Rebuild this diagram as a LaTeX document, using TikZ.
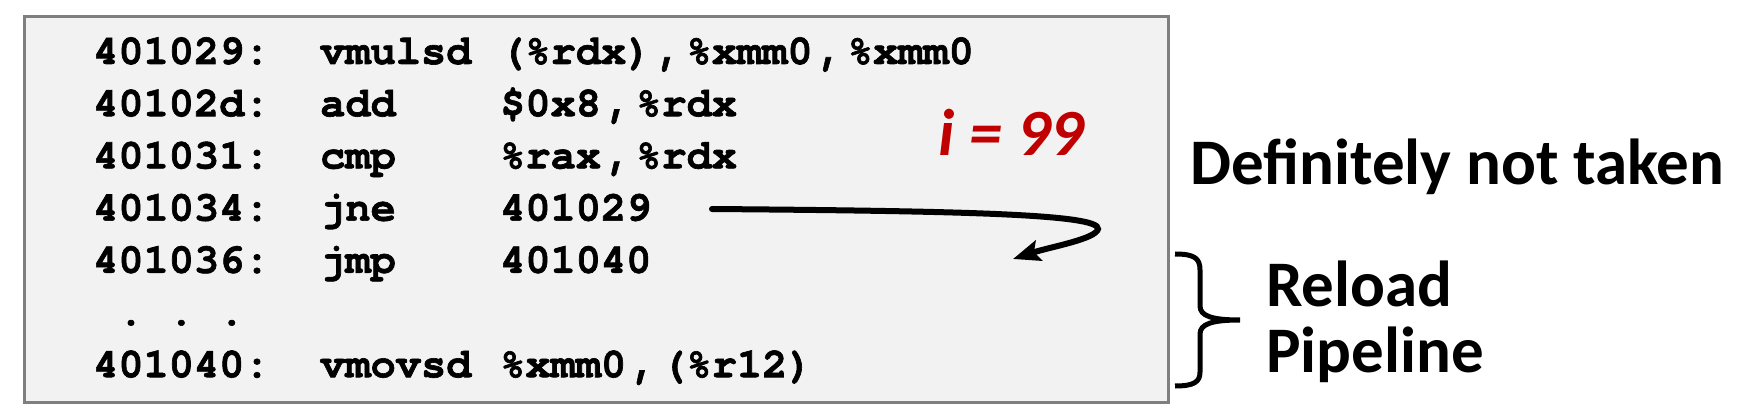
\documentclass[tikz,border=0pt]{standalone}
\usepackage{fontspec}
\usetikzlibrary{arrows.meta}
\newfontfamily\codefont{texgyrecursor}[Extension=.otf,UprightFont=*-regular,BoldFont=*-bold,BoldFeatures={FakeBold=1.5}]
\newfontfamily\calfont{Carlito}
\definecolor{boxfill}{HTML}{F2F2F2}
\definecolor{boxline}{HTML}{7F7F7F}
\definecolor{darkred}{HTML}{C00000}
\newcommand{\cm}{\kern5pt,\kern5pt}
\begin{document}
\begin{tikzpicture}[x=1pt,y=-1pt,
  code/.style={anchor=base west,inner sep=0pt,font=\codefont\bfseries\fontsize{42}{50}\selectfont},
  label/.style={anchor=base west,inner sep=0pt,font=\calfont\bfseries\fontsize{65}{72}\selectfont},
  conn/.style={line width=6pt,line cap=round}]
\useasboundingbox (0,0) rectangle (1758,419);
\node[draw=boxline,line width=3pt,fill=boxfill,minimum width=1144pt,minimum height=386pt,anchor=north west,inner sep=0pt] (box) at (22.5,15) {};
% addresses
\node[code] (a1) at (93,64) {401029:};
\node[code] (a2) at (93,116.2) {40102d:};
\node[code] (a3) at (93,168.4) {401031:};
\node[code] (a4) at (93,220.6) {401034:};
\node[code] (a5) at (93,272.8) {401036:};
\node[code] (a6) at (93,325) {~.~.~.};
\node[code] (a7) at (93,377.2) {401040:};
% mnemonics
\node[code] (m1) at (320,64) {vmulsd};
\node[code] (m2) at (320,116.2) {add};
\node[code] (m3) at (320,168.4) {cmp};
\node[code] (m4) at (320,220.6) {jne};
\node[code] (m5) at (320,272.8) {jmp};
\node[code] (m7) at (320,377.2) {vmovsd};
% operands
\node[code] (o1) at (500,64) {(\%rdx)\cm\%xmm0\cm\%xmm0};
\node[code] (o2) at (500,116.2) {\$0x8\cm\%rdx};
\node[code] (o3) at (500,168.4) {\%rax\cm\%rdx};
\node[code] (o4) at (500,220.6) {401029};
\node[code] (o5) at (500,272.8) {401040};
\node[code] (o7) at (500,377.2) {\%xmm0\cm(\%r12)};
% i = 99
\node[anchor=base west,inner sep=0pt,text=darkred,font=\calfont\bfseries\itshape\fontsize{66}{72}\selectfont] (iv) at (938,156) {i = 99};
% arrow
\coordinate (s) at (712,209);
\coordinate (t) at (1013,259);
\draw[conn,-{Stealth[length=27pt,width=21pt,inset=5pt]}] (s) .. controls (960,211) and (1100,214) .. (1098,229) .. controls (1096,239) and (1050,247) .. (t);
% right labels
\node[label] (dnt) at (1190,185) {Definitely not taken};
\node[label] (rl) at (1266,307) {Reload};
\node[label] (pl) at (1266,373) {Pipeline};
% brace
\draw[line width=5pt] (1175,254) .. controls (1194,254) and (1200,258) .. (1200,270) -- (1200,306) .. controls (1200,316) and (1212,320) .. (1240,320) .. controls (1212,320) and (1200,324) .. (1200,334) -- (1200,372) .. controls (1200,382) and (1194,386) .. (1175,386);
\end{tikzpicture}
\end{document}
